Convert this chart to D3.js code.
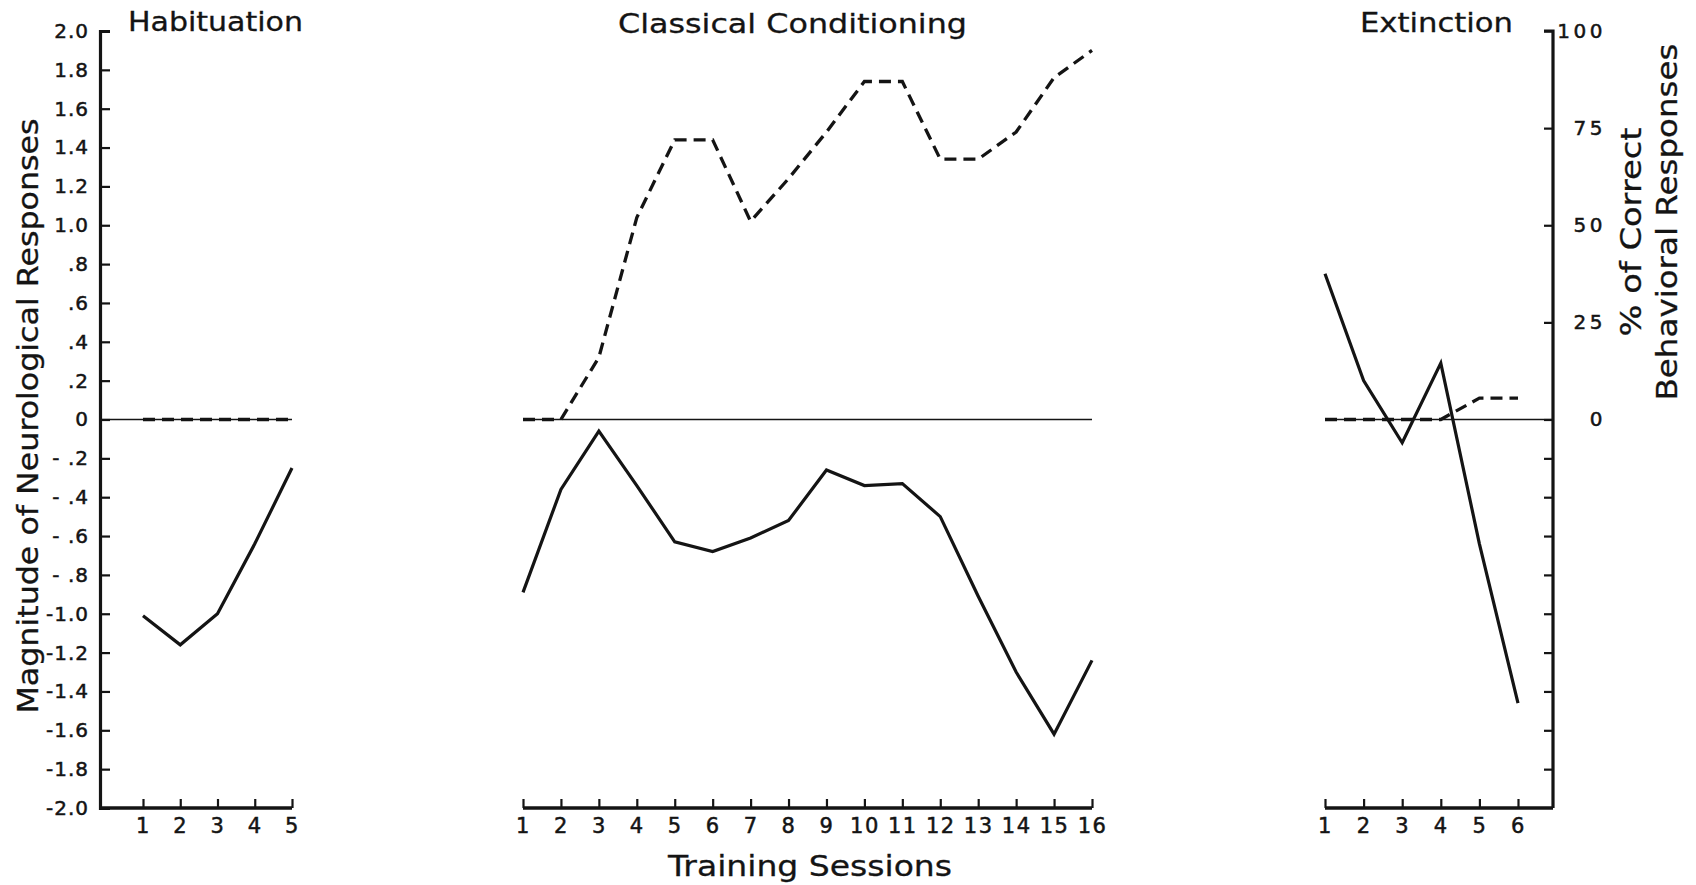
<!DOCTYPE html>
<html>
<head>
<meta charset="utf-8">
<script src="https://cdn.jsdelivr.net/npm/d3@7"></script>
<style>
  html, body { margin: 0; padding: 0; background: #ffffff; }
  svg { display: block; }
  text { font-family: "DejaVu Sans", "Noto Sans", sans-serif; fill: #141414; }
</style>
</head>
<body>
<svg id="chart" width="1696" height="885"></svg>
<script>
// ---- data -------------------------------------------------------------
// Habituation phase
const habSessions = [1, 2, 3, 4, 5];
const habNeuro = [-1.01, -1.16, -1.00, -0.64, -0.25];
const habBehavior = [0, 0, 0, 0, 0];

// Classical conditioning phase
const condSessions = [1, 2, 3, 4, 5, 6, 7, 8, 9, 10, 11, 12, 13, 14, 15, 16];
const condNeuro = [-0.89, -0.36, -0.06, -0.34, -0.63, -0.68, -0.61, -0.52,
                   -0.26, -0.34, -0.33, -0.50, -0.91, -1.30, -1.62, -1.24];
const condBehavior = [0, 0, 16, 52, 72, 72, 51, 62, 74, 87, 87, 67, 67, 74, 88, 95];

// Extinction phase
const extSessions = [1, 2, 3, 4, 5, 6];
const extNeuro = [0.75, 0.20, -0.12, 0.29, -0.64, -1.46];
const extBehavior = [0, 0, 0, 0, 5.5, 5.5];

// Axis ticks
const neuroTicks = [2.0, 1.8, 1.6, 1.4, 1.2, 1.0, 0.8, 0.6, 0.4, 0.2, 0,
                    -0.2, -0.4, -0.6, -0.8, -1.0, -1.2, -1.4, -1.6, -1.8, -2.0];
const neuroTickLabels = ["2.0", "1.8", "1.6", "1.4", "1.2", "1.0", ".8", ".6", ".4", ".2", "0",
                         "- .2", "- .4", "- .6", "- .8", "-1.0", "-1.2", "-1.4", "-1.6", "-1.8", "-2.0"];
const pctTicks = [0, 25, 50, 75, 100];
const pctTickLabels = ["0", "25", "50", "75", "100"];
const pctMinorTicks = [-0.2, -0.4, -0.6, -0.8, -1.0, -1.2, -1.4, -1.6, -1.8];

// Text
const panelTitles = ["Habituation", "Classical Conditioning", "Extinction"];
const leftAxisTitle = "Magnitude of Neurological Responses";
const rightAxisTitle = ["% of Correct", "Behavioral Responses"];
const xAxisTitle = "Training Sessions";

// ---- layout -----------------------------------------------------------
const svg = d3.select("#chart");
const ink = "#141414";

const y = d3.scaleLinear().domain([-2, 2]).range([808, 31]);
const yPct = d3.scaleLinear().domain([0, 100]).range([y(0), y(2)]);

const leftAxisX = 100;
const rightAxisX = 1553;

const xHab = d3.scaleLinear().domain([1, 5]).range([143, 292]);
const xCond = d3.scaleLinear().domain([1, 16]).range([523, 1092]);
const xExt = d3.scaleLinear().domain([1, 6]).range([1325, 1518]);

const panels = [
  { x: xHab, sessions: habSessions, neuro: habNeuro, beh: habBehavior,
    x0: leftAxisX, x1: xHab(5), title: panelTitles[0], tx: 128, tw: 175, ty: 31 },
  { x: xCond, sessions: condSessions, neuro: condNeuro, beh: condBehavior,
    x0: xCond(1), x1: xCond(16), title: panelTitles[1], tx: 618, tw: 349, ty: 33 },
  { x: xExt, sessions: extSessions, neuro: extNeuro, beh: extBehavior,
    x0: xExt(1), x1: rightAxisX, title: panelTitles[2], tx: 1360, tw: 153, ty: 32 }
];

function styleTickText(sel, size, spacing) {
  sel.style("font-size", size + "px")
     .style("font-family", '"DejaVu Sans", sans-serif')
     .style("letter-spacing", spacing + "px")
     .attr("fill", ink)
     .attr("stroke", ink).attr("stroke-width", 0.5);
}

// ---- left (neurological) axis ----------------------------------------
const leftAxis = d3.axisLeft(y)
  .tickValues(neuroTicks)
  .tickFormat((d, i) => neuroTickLabels[i])
  .tickSizeInner(-10)
  .tickSizeOuter(-10)
  .tickPadding(11);

const gLeft = svg.append("g")
  .attr("transform", `translate(${leftAxisX},0)`)
  .call(leftAxis);
gLeft.select(".domain").attr("stroke", ink).attr("stroke-width", 3.2).attr("fill", "none");
gLeft.selectAll(".tick line").attr("stroke", ink).attr("stroke-width", 2.2);
styleTickText(gLeft.selectAll(".tick text"), 20, 1);

// ---- right (behavioural %) axis ---------------------------------------
const rightAxis = d3.axisRight(yPct)
  .tickValues(pctTicks)
  .tickFormat((d, i) => pctTickLabels[i])
  .tickSizeInner(-9)
  .tickSizeOuter(0)
  .tickPadding(0);

const gRight = svg.append("g")
  .attr("transform", `translate(${rightAxisX},0)`)
  .call(rightAxis);
gRight.select(".domain").remove();
gRight.selectAll(".tick line").attr("stroke", ink).attr("stroke-width", 2.2);
styleTickText(gRight.selectAll(".tick text"), 20, 3.5);
gRight.selectAll(".tick text").attr("text-anchor", "end").attr("x", 53);

const gRightMinor = svg.append("g")
  .attr("transform", `translate(${rightAxisX},0)`)
  .call(d3.axisRight(y).tickValues(pctMinorTicks).tickFormat("").tickSizeInner(-9).tickSizeOuter(0));
gRightMinor.select(".domain").remove();
gRightMinor.selectAll(".tick line").attr("stroke", ink).attr("stroke-width", 2.2);

// right axis spine, with a short inward cap at the top
svg.append("path")
  .attr("d", `M${rightAxisX - 9},${y(2)}H${rightAxisX}V${y(-2)}`)
  .attr("fill", "none").attr("stroke", ink).attr("stroke-width", 3.2);

// ---- session axes -----------------------------------------------------
const axisY = y(-2);
panels.forEach(p => {
  const g = svg.append("g")
    .attr("transform", `translate(0,${axisY})`)
    .call(d3.axisBottom(p.x).tickValues(p.sessions).tickFormat(d3.format("d"))
      .tickSizeInner(-9).tickSizeOuter(0).tickPadding(10));
  g.select(".domain").remove();
  g.selectAll(".tick line").attr("stroke", ink).attr("stroke-width", 2.2);
  styleTickText(g.selectAll(".tick text"), 21, 1.5);

  // baseline of the session axis
  g.append("line")
    .attr("x1", p.x0).attr("x2", p.x1).attr("y1", 0).attr("y2", 0)
    .attr("stroke", ink).attr("stroke-width", 3.4);

  // zero reference line
  svg.append("line")
    .attr("x1", p.x0).attr("x2", p.x1).attr("y1", y(0)).attr("y2", y(0))
    .attr("stroke", ink).attr("stroke-width", 1.6);

  // behavioural responses (dashed)
  svg.append("path")
    .datum(p.sessions.map((s, i) => [s, p.beh[i]]))
    .attr("d", d3.line().x(d => p.x(d[0])).y(d => yPct(d[1])))
    .attr("fill", "none").attr("stroke", ink).attr("stroke-width", 3.3)
    .attr("stroke-dasharray", "12,7");

  // neurological responses (solid)
  svg.append("path")
    .datum(p.sessions.map((s, i) => [s, p.neuro[i]]))
    .attr("d", d3.line().x(d => p.x(d[0])).y(d => y(d[1])))
    .attr("fill", "none").attr("stroke", ink).attr("stroke-width", 3.2)
    .attr("stroke-linejoin", "miter");

  // panel title
  svg.append("text")
    .attr("x", p.tx).attr("y", p.ty)
    .style("font-size", "26px")
    .attr("stroke", ink).attr("stroke-width", 0.3)
    .attr("textLength", p.tw).attr("lengthAdjust", "spacingAndGlyphs")
    .text(p.title);
});

// ---- axis titles ------------------------------------------------------
function axisTitle(transform, len, label) {
  svg.append("text")
    .attr("transform", transform)
    .attr("text-anchor", "middle")
    .style("font-size", "28px")
    .attr("stroke", ink).attr("stroke-width", 0.3)
    .attr("textLength", len).attr("lengthAdjust", "spacingAndGlyphs")
    .text(label);
}
axisTitle("translate(38,416) rotate(-90)", 595, leftAxisTitle);
axisTitle("translate(1641,232) rotate(-90)", 209, rightAxisTitle[0]);
axisTitle("translate(1677,222) rotate(-90)", 357, rightAxisTitle[1]);

svg.append("text")
  .attr("x", 668).attr("y", 876)
  .style("font-size", "29px")
  .attr("stroke", ink).attr("stroke-width", 0.3)
  .attr("textLength", 284).attr("lengthAdjust", "spacingAndGlyphs")
  .text(xAxisTitle);
</script>
</body>
</html>
